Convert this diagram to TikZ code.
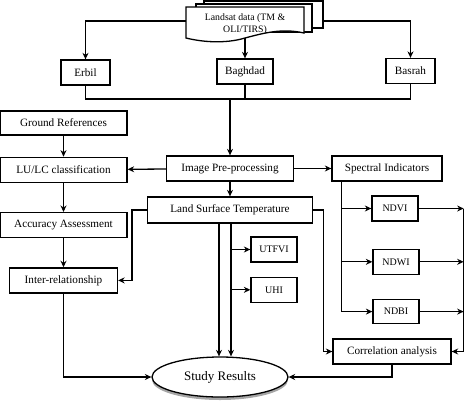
\documentclass[tikz,border=0pt]{standalone}
\usepackage{fontspec}
\setmainfont{Liberation Serif}
\usetikzlibrary{positioning,shapes,shadows,arrows.meta,calc}

\begin{document}
\begin{tikzpicture}[x=1pt,y=-1pt]
     \tikzset{box/.style={draw, line width=1.3pt, rectangle, inner sep=0pt, minimum height=25pt, font=\fontsize{11.2}{13}\selectfont}}
     \tikzset{smallbox/.style={box, minimum width=46pt, font=\fontsize{10}{12}\selectfont}}
     \tikzset{line/.style={draw, line width=1.3pt}}
     \tikzset{arrowline/.style={line, -{Stealth[length=6.5pt,width=6pt]}}}
     \useasboundingbox (0,0) rectangle (474,400);

     % landsat sheets
     \draw [line, fill=white] (204,1) rectangle (323,28);
     \draw [line, fill=white] (196,4) rectangle (312,32);
     \draw [line, fill=white] (186,7) -- (304,7) -- (304,33) .. controls (282,28) and (264,33) .. (245,38) .. controls (225,44) and (202,42) .. (186,38) -- cycle;
     \node [align=center, font=\fontsize{9.8}{12}\selectfont] (landsat) at (245,24) {Landsat data (TM \&\\OLI/TIRS)};
     \coordinate (docL) at (186,21);
     \coordinate (docR) at (323,21);
     \coordinate (docB) at (245,38);

     \node [box, minimum width=49pt] (erbil) at (85.5,72.5) {Erbil};
     \node [box, minimum width=56pt] (baghdad) at (245,71.5) {Baghdad};
     \node [box, minimum width=49pt] (basrah) at (410.5,71) {Basrah};
     \coordinate (merge) at (230,99);

     \node [box, minimum width=127pt, minimum height=24pt] (ground) at (63.5,123) {Ground References};
     \node [box, minimum width=127pt, below=21pt of ground] (lulc) {LU/LC classification};
     \node [box, minimum width=127pt, below=29pt of lulc] (accuracy) {Accuracy Assessment};
     \node [box, minimum width=108pt, below=29pt of accuracy] (inter) {Inter-relationship};

     \node [box, minimum width=127pt] (prep) at (230,168.5) {Image Pre-processing};
     \node [box, minimum width=110pt] (spectral) at (387,168.5) {Spectral Indicators};
     \node [box, minimum width=165pt, minimum height=26pt] (lst) at (230,210) {Land Surface Temperature};

     \node [smallbox] (utfvi) at (274,249.5) {UTFVI};
     \node [smallbox, below=14pt of utfvi] (uhi) {UHI};

     \node [smallbox] (ndvi) at (395,208.5) {NDVI};
     \node [smallbox, below=27pt of ndvi, xshift=1pt] (ndwi) {NDWI};
     \node [smallbox, minimum height=24pt, below=24pt of ndwi] (ndbi) {NDBI};

     \node [box, minimum width=118pt] (corr) at (392,351.5) {Correlation analysis};
     \node [ellipse, draw, line width=1.3pt, fill=white, inner sep=0pt, minimum width=136pt, minimum height=40pt, font=\fontsize{13}{15}\selectfont,
            drop shadow={shadow xshift=0pt, shadow yshift=-3pt, opacity=.7}] (result) at (220,377) {Study Results};

     % top part
     \path [arrowline] (docL) -| (erbil.north);
     \path [arrowline] (docR) -| (basrah.north);
     \path [arrowline] (docB) -- (baghdad.north);
     \path [line] (erbil.south) -- (erbil.south |- merge) -- (basrah.south |- merge) -- (basrah.south);
     \path [line] (baghdad.south) -- (baghdad.south |- merge);
     \path [arrowline] (merge) -- (prep.north);

     % left column
     \path [arrowline] (ground) -- (lulc);
     \path [arrowline] (prep) -- (lulc);
     \path [arrowline] (lulc) -- (accuracy);
     \path [arrowline] (accuracy) -- (inter);
     \path [arrowline] (lst.west) -- ++(-15,0) |- (inter.east);
     \path [arrowline] (inter.south) |- (result.west);

     % middle
     \path [arrowline] (prep) -- (lst);
     \path [arrowline] ([xshift=-11pt]lst.south) -- ([xshift=-11pt]lst.south |- result.north);
     \path [arrowline] ([xshift=1pt]lst.south) -- ([xshift=1pt]lst.south |- result.north);
     \path [arrowline] ([xshift=1pt]lst.south |- utfvi.west) -- (utfvi.west);
     \path [arrowline] ([xshift=1pt]lst.south |- uhi.west) -- (uhi.west);
     \path [arrowline] (lst.east) -- ++(10,0) |- (corr.west);

     % right column
     \path [arrowline] (prep) -- (spectral);
     \coordinate (siL) at ([xshift=10pt]spectral.south west);
     \coordinate (bus) at ([xshift=12pt]corr.east);
     \path [arrowline] (siL) |- (ndvi.west);
     \path [arrowline] (siL) |- (ndwi.west);
     \path [arrowline] (siL) |- (ndbi.west);
     \path [arrowline] (ndvi.east) -- (ndvi.east -| bus);
     \path [arrowline] (ndwi.east) -- (ndwi.east -| bus);
     \path [arrowline] (ndbi.east) -- (ndbi.east -| bus);
     \path [arrowline] (ndvi.east -| bus) |- (corr.east);
     \path [arrowline] (corr.south) |- (result.east);
\end{tikzpicture}
\end{document}
